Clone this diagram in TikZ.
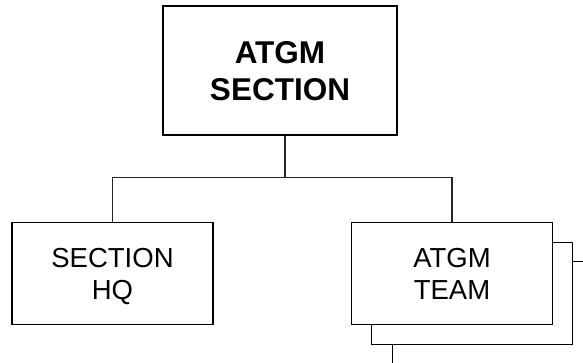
\documentclass[tikz,border=0pt]{standalone}
\usepackage{fontspec}
\setmainfont{Liberation Sans}
\usepackage{tikz}
\usetikzlibrary{positioning, calc}
\tikzset{
	unitbox/.style  ={rectangle, draw=black, line width=1.3pt, fill=white, minimum width=201pt, minimum height=102pt, align=center, inner sep=0pt, text depth=0pt, font=\fontsize{27.5}{32}\selectfont},
	hqbox/.style    ={unitbox, minimum width=234pt, minimum height=129pt, font=\fontsize{31.5}{37}\selectfont\bfseries},
	orgline/.style  ={line width=1.3pt, draw=black!85},
}

\begin{document}
\begin{tikzpicture}[x=1pt, y=-1pt]
	\useasboundingbox (0,0) rectangle (583,362);
	\clip (0,0) rectangle (583,362);
	\node[hqbox] (sec) at (280,70.5) {ATGM\\SECTION};
	\node[unitbox] (hq) at (112.5,273.7) {SECTION\\HQ};
	% stacked team boxes, back to front
	\node[unitbox] (team3) at (493,312.7) {};
	\node[unitbox] (team2) at (472,293.2) {};
	\node[unitbox] (team) at (452,273.7) {ATGM\\TEAM};
	\draw[orgline] ([xshift=5pt]sec.south) -- ++(0,42) coordinate (bar);
	\draw[orgline] (hq.north) |- (bar) -| (team.north);
\end{tikzpicture}
\end{document}
